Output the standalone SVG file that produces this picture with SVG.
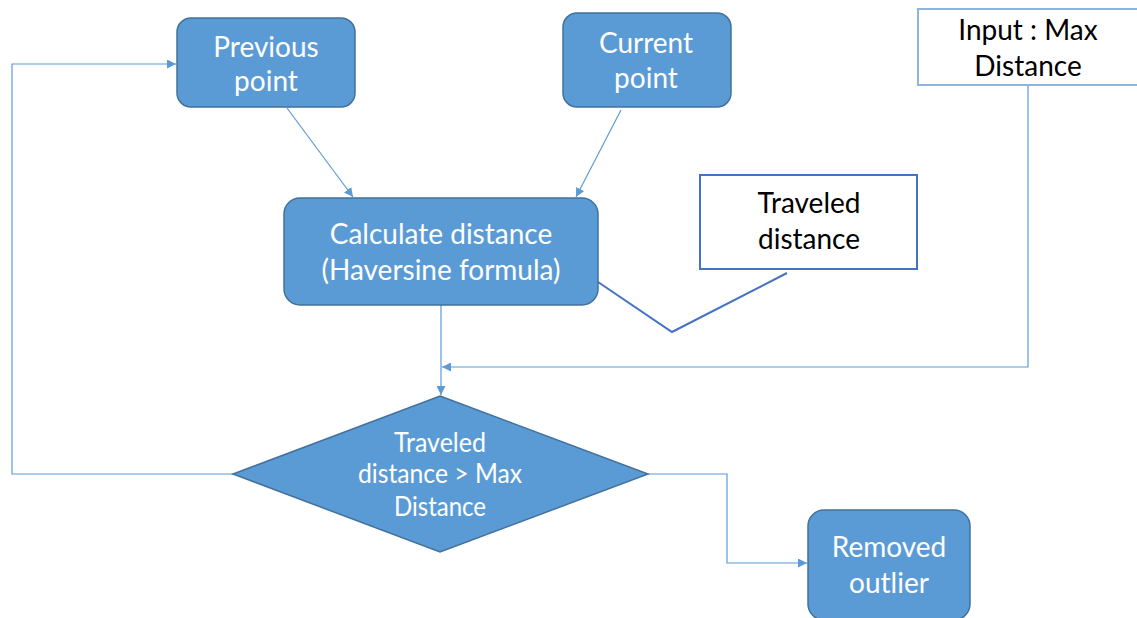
<svg xmlns="http://www.w3.org/2000/svg" width="1137" height="618" viewBox="0 0 1137 618">
<style>
.node{fill:#5B9BD5;stroke:#41719C;stroke-width:1.5}
.box{fill:#ffffff}
.wt{fill:#ffffff;font-family:Lato,"Open Sans",sans-serif;font-size:28px;text-anchor:middle}
.bt{fill:#000000;font-family:Lato,"Open Sans",sans-serif;font-size:28px;text-anchor:middle}
.dt{fill:#ffffff;font-family:Lato,"Open Sans",sans-serif;font-size:26px;text-anchor:middle}
.c{fill:none;stroke:#5B9BD5;stroke-width:1.2}
</style>
<defs>
<marker id="ah" viewBox="0 0 10 10" refX="10" refY="5" markerWidth="9" markerHeight="9" markerUnits="userSpaceOnUse" orient="auto">
<path d="M0,0 L10,5 L0,10 z" fill="#5B9BD5"/>
</marker>
</defs>
<rect width="1137" height="618" fill="#ffffff"/>
<g id="connectors">
<line class="c" x1="287" y1="108" x2="353" y2="197" marker-end="url(#ah)"/>
<line class="c" x1="621" y1="110" x2="576" y2="197" marker-end="url(#ah)"/>
<line class="c" x1="441" y1="305" x2="441" y2="395" marker-end="url(#ah)"/>
<polyline class="c" points="1028,85 1028,367 442,367" marker-end="url(#ah)"/>
<polyline class="c" points="233,474 12,474 12,64 176,64" marker-end="url(#ah)"/>
<polyline class="c" points="648,474 727,474 727,563 807,563" marker-end="url(#ah)"/>
<polyline points="598,282 672,332 787,273" fill="none" stroke="#4472C4" stroke-width="2"/>
</g>
<g id="previous-point">
<rect class="node" x="177" y="18" width="178" height="89" rx="14"/>
<text class="wt" x="266" y="57">Previous</text>
<text class="wt" x="266" y="91">point</text>
</g>
<g id="current-point">
<rect class="node" x="563" y="13" width="168" height="94" rx="14"/>
<text class="wt" x="646" y="53">Current</text>
<text class="wt" x="646" y="88">point</text>
</g>
<g id="input-max-distance">
<rect class="box" x="918" y="9" width="225" height="76" stroke="#8FB4E0" stroke-width="2"/>
<text class="bt" x="1028" y="40">Input : Max</text>
<text class="bt" x="1028" y="76">Distance</text>
</g>
<g id="calculate-distance">
<rect class="node" x="284" y="198" width="314" height="107" rx="16"/>
<text class="wt" x="441" y="244">Calculate distance</text>
<text class="wt" x="441" y="280">(Haversine formula)</text>
</g>
<g id="traveled-distance">
<rect class="box" x="700" y="175" width="217" height="94" stroke="#4472C4" stroke-width="2"/>
<text class="bt" x="809" y="213">Traveled</text>
<text class="bt" x="809" y="249">distance</text>
</g>
<g id="decision">
<polygon class="node" points="440,396 648,474 440,552 233,474"/>
<text class="dt" x="440" y="452" textLength="92" lengthAdjust="spacingAndGlyphs">Traveled</text>
<text class="dt" x="440" y="483" textLength="164" lengthAdjust="spacingAndGlyphs">distance &gt; Max</text>
<text class="dt" x="440" y="516" textLength="92" lengthAdjust="spacingAndGlyphs">Distance</text>
</g>
<g id="removed-outlier">
<rect class="node" x="808" y="510" width="162" height="110" rx="16"/>
<text class="wt" x="889" y="557">Removed</text>
<text class="wt" x="889" y="593">outlier</text>
</g>
</svg>
